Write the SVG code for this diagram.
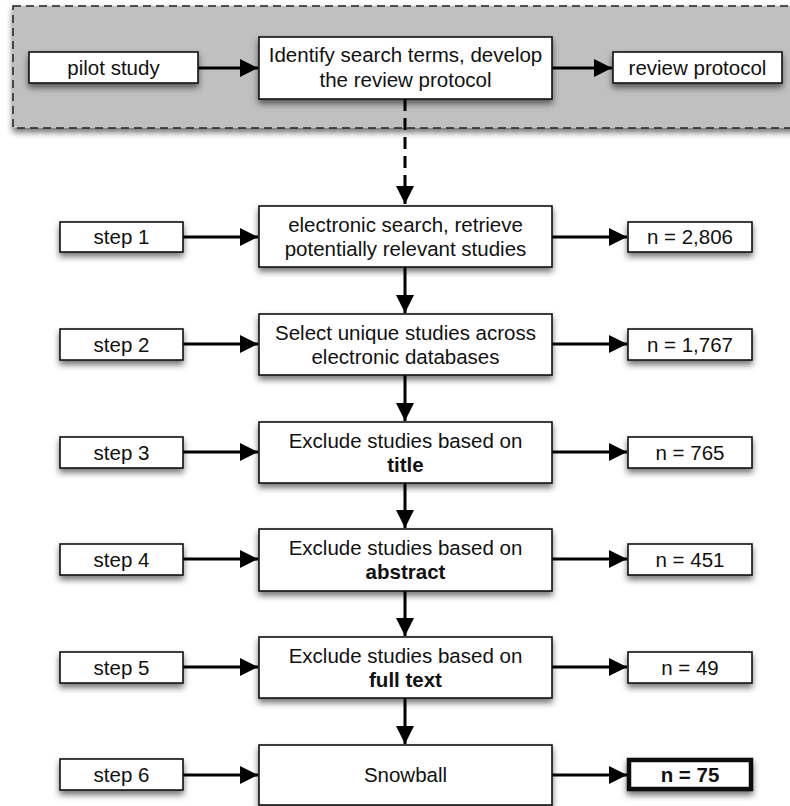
<svg xmlns="http://www.w3.org/2000/svg" width="790" height="806" viewBox="0 0 790 806">
  <style>
    text { font-family: "Liberation Sans", Arial, Helvetica, sans-serif; font-size: 20.5px; fill: #111; text-anchor: middle; }
    .b { font-weight: bold; }
    .box { fill: #fff; stroke: #111; stroke-width: 1.6; }
    .thick { fill: #fff; stroke: #111; stroke-width: 4.5; }
    .panel { fill: #c0c0c0; stroke: #222; stroke-width: 1.5; stroke-dasharray: 8 5; }
    .link { fill: none; stroke: #000; stroke-width: 3; }
    .dash { fill: none; stroke: #000; stroke-width: 3; stroke-dasharray: 12 7; }
  </style>
  <defs>
    <filter id="shadow" x="-10%" y="-20%" width="120%" height="160%">
      <feDropShadow dx="0" dy="4" stdDeviation="3" flood-color="#000" flood-opacity="0.55"/>
    </filter>
    <marker id="head" viewBox="0 0 10 10" refX="10" refY="5" markerWidth="7.6" markerHeight="6" markerUnits="strokeWidth" orient="auto">
      <path d="M0,0 L10,5 L0,10 Z" fill="#000"/>
    </marker>
  </defs>

  <!-- protocol development panel -->
  <g id="panel">
    <rect class="panel" x="13" y="6" width="790" height="122" filter="url(#shadow)"/>
  </g>

  <!-- connectors -->
  <g id="connectors">
    <line class="link" x1="198" y1="68" x2="258" y2="68" marker-end="url(#head)"/>
    <line class="link" x1="552" y1="68" x2="612" y2="68" marker-end="url(#head)"/>
    <line class="dash" x1="405" y1="99" x2="405" y2="204" marker-end="url(#head)"/>

    <line class="link" x1="183" y1="237" x2="258" y2="237" marker-end="url(#head)"/>
    <line class="link" x1="552" y1="237" x2="627" y2="237" marker-end="url(#head)"/>
    <line class="link" x1="405" y1="267" x2="405" y2="313" marker-end="url(#head)"/>

    <line class="link" x1="183" y1="344" x2="258" y2="344" marker-end="url(#head)"/>
    <line class="link" x1="552" y1="344" x2="627" y2="344" marker-end="url(#head)"/>
    <line class="link" x1="405" y1="375" x2="405" y2="421" marker-end="url(#head)"/>

    <line class="link" x1="183" y1="452" x2="258" y2="452" marker-end="url(#head)"/>
    <line class="link" x1="552" y1="452" x2="627" y2="452" marker-end="url(#head)"/>
    <line class="link" x1="405" y1="483" x2="405" y2="528" marker-end="url(#head)"/>

    <line class="link" x1="183" y1="559" x2="258" y2="559" marker-end="url(#head)"/>
    <line class="link" x1="552" y1="559" x2="627" y2="559" marker-end="url(#head)"/>
    <line class="link" x1="405" y1="591" x2="405" y2="636" marker-end="url(#head)"/>

    <line class="link" x1="183" y1="667" x2="258" y2="667" marker-end="url(#head)"/>
    <line class="link" x1="552" y1="667" x2="627" y2="667" marker-end="url(#head)"/>
    <line class="link" x1="405" y1="698" x2="405" y2="744" marker-end="url(#head)"/>

    <line class="link" x1="183" y1="775" x2="258" y2="775" marker-end="url(#head)"/>
    <line class="link" x1="552" y1="775" x2="627" y2="775" marker-end="url(#head)"/>
  </g>

  <!-- top row -->
  <g id="pilot-study">
    <rect class="box" x="29" y="52" width="169" height="31" filter="url(#shadow)"/>
    <text x="113.5" y="75">pilot study</text>
  </g>
  <g id="identify-terms">
    <rect class="box" x="259" y="37" width="293" height="62" filter="url(#shadow)"/>
    <text x="405.5" y="62">Identify search terms, develop</text>
    <text x="405.5" y="87">the review protocol</text>
  </g>
  <g id="review-protocol">
    <rect class="box" x="613" y="52" width="169" height="31" filter="url(#shadow)"/>
    <text x="697.5" y="75">review protocol</text>
  </g>

  <!-- step 1 -->
  <g id="step1">
    <rect class="box" x="60" y="222" width="123" height="30" filter="url(#shadow)"/>
    <text x="121.5" y="244">step 1</text>
  </g>
  <g id="search">
    <rect class="box" x="259" y="206" width="293" height="61" filter="url(#shadow)"/>
    <text x="405.5" y="232">electronic search, retrieve</text>
    <text x="405.5" y="256">potentially relevant studies</text>
  </g>
  <g id="n1">
    <rect class="box" x="628" y="222" width="124" height="30" filter="url(#shadow)"/>
    <text x="690" y="244">n = 2,806</text>
  </g>

  <!-- step 2 -->
  <g id="step2">
    <rect class="box" x="60" y="329" width="123" height="31" filter="url(#shadow)"/>
    <text x="121.5" y="351.5">step 2</text>
  </g>
  <g id="unique">
    <rect class="box" x="259" y="314" width="293" height="61" filter="url(#shadow)"/>
    <text x="405.5" y="339.5">Select unique studies across</text>
    <text x="405.5" y="363.5">electronic databases</text>
  </g>
  <g id="n2">
    <rect class="box" x="628" y="329" width="124" height="31" filter="url(#shadow)"/>
    <text x="690" y="351.5">n = 1,767</text>
  </g>

  <!-- step 3 -->
  <g id="step3">
    <rect class="box" x="60" y="437" width="123" height="31" filter="url(#shadow)"/>
    <text x="121.5" y="459.5">step 3</text>
  </g>
  <g id="title-screen">
    <rect class="box" x="259" y="422" width="293" height="61" filter="url(#shadow)"/>
    <text x="405.5" y="447.5">Exclude studies based on</text>
    <text x="405.5" y="471.5" class="b">title</text>
  </g>
  <g id="n3">
    <rect class="box" x="628" y="437" width="124" height="31" filter="url(#shadow)"/>
    <text x="690" y="459.5">n = 765</text>
  </g>

  <!-- step 4 -->
  <g id="step4">
    <rect class="box" x="60" y="544" width="123" height="31" filter="url(#shadow)"/>
    <text x="121.5" y="566.5">step 4</text>
  </g>
  <g id="abstract-screen">
    <rect class="box" x="259" y="529" width="293" height="62" filter="url(#shadow)"/>
    <text x="405.5" y="555">Exclude studies based on</text>
    <text x="405.5" y="579" class="b">abstract</text>
  </g>
  <g id="n4">
    <rect class="box" x="628" y="544" width="124" height="31" filter="url(#shadow)"/>
    <text x="690" y="566.5">n = 451</text>
  </g>

  <!-- step 5 -->
  <g id="step5">
    <rect class="box" x="60" y="652" width="123" height="31" filter="url(#shadow)"/>
    <text x="121.5" y="674.5">step 5</text>
  </g>
  <g id="fulltext-screen">
    <rect class="box" x="259" y="637" width="293" height="61" filter="url(#shadow)"/>
    <text x="405.5" y="662.5">Exclude studies based on</text>
    <text x="405.5" y="686.5" class="b">full text</text>
  </g>
  <g id="n5">
    <rect class="box" x="628" y="652" width="124" height="31" filter="url(#shadow)"/>
    <text x="690" y="674.5">n = 49</text>
  </g>

  <!-- step 6 -->
  <g id="step6">
    <rect class="box" x="60" y="759" width="123" height="31" filter="url(#shadow)"/>
    <text x="121.5" y="781.5">step 6</text>
  </g>
  <g id="snowball">
    <rect class="box" x="259" y="745" width="293" height="60" filter="url(#shadow)"/>
    <text x="405.5" y="782">Snowball</text>
  </g>
  <g id="n-final">
    <rect class="thick" x="629" y="760" width="122" height="29" filter="url(#shadow)"/>
    <text x="690" y="782" class="b">n = 75</text>
  </g>
</svg>
